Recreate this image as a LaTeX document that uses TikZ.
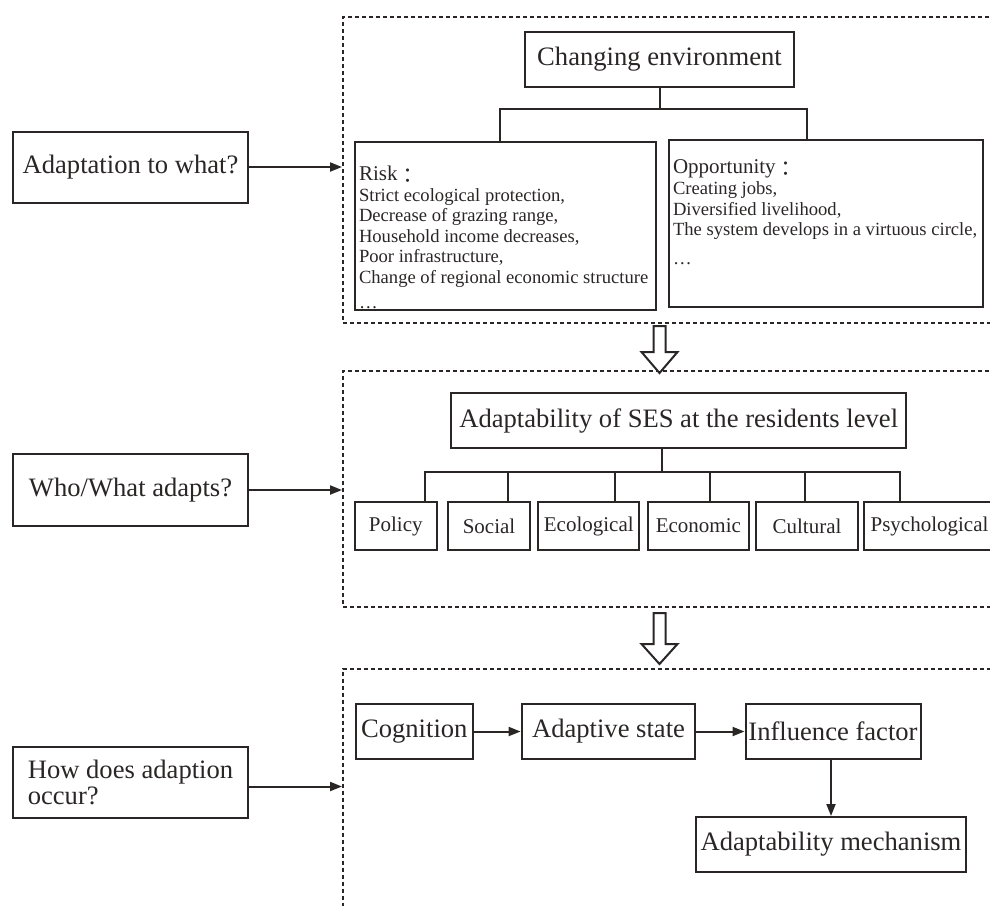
\documentclass[tikz,border=0pt]{standalone}
\usepackage{fontspec}
\setmainfont{Liberation Serif}
\newfontfamily\cjk{Noto Sans CJK JP}
\usetikzlibrary{arrows.meta, calc}

\definecolor{ink}{RGB}{42,38,38}

\begin{document}
\begin{tikzpicture}
  [x=0.5pt, y=-0.5pt,
    >={Triangle[length=6pt,width=4.5pt]}]

  \tikzset{
    box/.style={
      rectangle, draw=ink, line width=1pt,
      inner sep=0pt, align=center, text=ink,
      minimum height=27.5pt,
      font=\fontsize{13.3}{16}\selectfont,
    },
    question/.style={box,
      minimum width=117.5pt, minimum height=35.5pt,
    },
    factor/.style={box,
      minimum height=24pt,
      font=\fontsize{10.5}{12}\selectfont,
    },
    region/.style={
      draw=ink, line width=1pt,
      dash pattern=on 2pt off 1.5pt,
      inner sep=0pt, minimum width=330pt,
    },
    link/.style={draw=ink, line width=1pt},
    flow/.style={link, ->},
    hollow/.style={draw=ink, line width=1pt, fill=white},
  }

  \newcommand{\fwcolon}{\raisebox{-0.12em}{\cjk ：}}

  \useasboundingbox (0,0) rectangle (990,905);
  \clip (0,0) rectangle (990,905);

  % the three questions
  \node[question] (what) at (130.5,167) {Adaptation to what?};
  \node[question, minimum height=36pt] (who) at (130.5,490) {Who/What adapts?};
  \node[question, align=left,
    font=\fontsize{13.3}{13.2}\selectfont] (how) at (130.5,782.5) {How does adaption\\occur?};

  % dashed frames
  \node[region, minimum height=153pt] (r1) at (673,170) {};
  \node[region, minimum height=118pt] (r2) at (673,489) {};
  \node[region, minimum height=119pt] (r3) at (673,787.5) {};

  \draw[flow] (what) -- (what -| r1.west);
  \draw[flow] (who) -- (who -| r1.west);
  \draw[flow] ([yshift=-2pt]how.east) -- ([yshift=-2pt]how.east -| r1.west);

  % adaptation to what
  \node[box, minimum width=134.5pt] (cenv) at (659.5,59.5) {Changing environment};
  \node[box, minimum width=150.5pt, minimum height=84pt] (risk) at (505.5,226)
    {\parbox[c][84pt][t]{146.5pt}{\vspace*{12pt}\raggedright
      {\fontsize{10.5}{10.3}\selectfont Risk\fwcolon}\\
      \fontsize{9.3}{10.3}\selectfont
      Strict ecological protection,\\
      Decrease of grazing range,\\
      Household income decreases,\\
      Poor infrastructure,\\
      Change of regional economic structure\\[2pt]
      \dots}};
  \node[box, minimum width=157pt, minimum height=83.5pt] (opp) at (826,223.5)
    {\parbox[c][83.5pt][t]{153pt}{\vspace*{10pt}\raggedright
      {\fontsize{10.5}{10.3}\selectfont Opportunity\fwcolon}\\
      \fontsize{9.3}{10.3}\selectfont
      Creating jobs,\\
      Diversified livelihood,\\
      The system develops in a virtuous circle,\\[4pt]
      \dots}};

  \coordinate (fork1) at ([yshift=-10.5pt]cenv.south);
  \draw[link] (cenv.south) -- (fork1);
  \draw[link] ([xshift=-2.75pt]risk.north) |- (fork1) -| ([xshift=-9.5pt]opp.north);

  \draw[hollow] (cenv.south |- r1.south) ++(-6,2) -- ++(0,26) -- ++(-12,0)
    -- ++(18,21) -- ++(18,-21) -- ++(-12,0) -- ++(0,-26) -- cycle;

  % who adapts
  \node[box, minimum width=227.6pt] (ses) at (678.7,420.5) {Adaptability of SES at the residents level};

  \node[factor, minimum width=41.25pt] (policy) at (395.8,526) {Policy};
  \node[factor, minimum width=41.25pt] (social) at (489,526) {Social};
  \node[factor, minimum width=50.5pt] (ecol) at (588.8,526) {Ecological};
  \node[factor, minimum width=50.8pt] (econ) at (698.4,526) {Economic};
  \node[factor, minimum width=50.8pt] (cult) at (807,526) {Cultural};
  \node[factor, minimum width=65.5pt] (psych) at (929.5,526) {Psychological};

  \coordinate (fork2) at ([xshift=-8.35pt, yshift=-11.5pt]ses.south);
  \draw[link] ([xshift=-8.35pt]ses.south) -- (fork2);
  \foreach \n/\dx in {policy/14.8, social/9.5, ecol/12.85, econ/5.9, cult/-0.9, psych/-15}
    \draw[link] ([xshift=\dx pt]\n.north) |- (fork2);

  \draw[hollow] (cenv.south |- r2.south) ++(-6,5) -- ++(0,31) -- ++(-12,0)
    -- ++(18,20) -- ++(18,-20) -- ++(-12,0) -- ++(0,-31) -- cycle;

  % how adaption occurs
  \node[box, minimum width=58.5pt] (cog) at (414.3,731.5) {Cognition};
  \node[box, minimum width=86.9pt] (state) at (608.5,731.5) {Adaptive state};
  \node[box, minimum width=87.5pt] (infl) at (833,731.5) {Influence factor};
  \node[box, minimum width=135.4pt] (mech) at (831,844.5) {Adaptability mechanism};

  \draw[flow] (cog) -- (state);
  \draw[flow] (state) -- (infl);
  \draw[flow] (infl.south -| mech.north) -- (mech.north);
\end{tikzpicture}
\end{document}
